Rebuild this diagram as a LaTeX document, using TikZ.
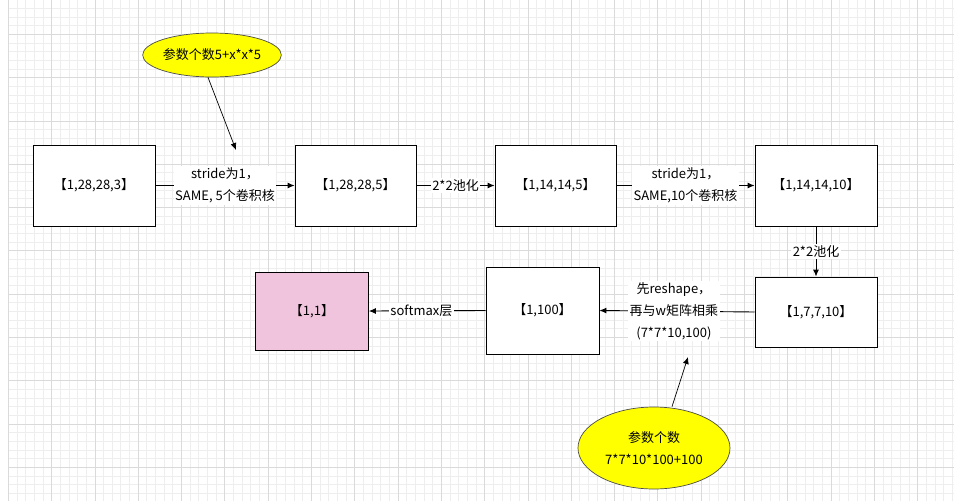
\documentclass[tikz,border=0pt]{standalone}
\usepackage{fontspec}
\setmainfont{Noto Sans CJK SC}
\usepackage{tikz}
\usetikzlibrary{arrows.meta,positioning,shapes.geometric}
\definecolor{minorgrid}{RGB}{238,238,238}
\definecolor{majorgrid}{RGB}{218,218,218}
\definecolor{boxpink}{RGB}{241,196,222}
\definecolor{bubble}{RGB}{255,255,0}

\begin{document}
\begin{tikzpicture}[x=1pt,y=-1pt,
  every node/.style={font=\fontsize{13}{22}\selectfont},
  box/.style={draw,line width=0.9pt,inner sep=0pt},
  bubblenode/.style={ellipse,draw=black!70,fill=bubble,line width=0.7pt,inner sep=0pt,align=center},
  lbl/.style={fill=white,inner sep=1.5pt,align=center},
  conn/.style={line width=0.9pt,-{Latex[length=7pt,width=6pt]}}]
  \useasboundingbox (0,0) rectangle (954,501);
  \fill[white] (0,0) rectangle (954,501);

  % grid
  \foreach \i in {0,...,109} {
    \draw[minorgrid,line width=0.8pt] (8.3+\i*8.66,0) -- (8.3+\i*8.66,501);
  }
  \foreach \j in {-3,...,54} {
    \draw[minorgrid,line width=0.8pt] (8.3,34.3+\j*8.66) -- (954,34.3+\j*8.66);
  }
  \foreach \i in {0,...,22} {
    \draw[majorgrid,line width=0.8pt] (8.3+\i*43.3,0) -- (8.3+\i*43.3,501);
  }
  \foreach \j in {0,...,11} {
    \draw[majorgrid,line width=0.8pt] (8.3,34.3+\j*43.3) -- (954,34.3+\j*43.3);
  }

  % tensor boxes
  \node[box,fill=white,minimum width=122pt,minimum height=81pt] (in) at (94,185.5) {【1,28,28,3】};
  \node[box,fill=white,minimum width=121pt,minimum height=81pt] (conva) at (355.5,185.5) {【1,28,28,5】};
  \node[box,fill=white,minimum width=121pt,minimum height=81pt] (poola) at (555.5,185.5) {【1,14,14,5】};
  \node[box,fill=white,minimum width=122pt,minimum height=81pt] (convb) at (816,185.5) {【1,14,14,10】};
  \node[box,fill=white,minimum width=122pt,minimum height=70pt] (poolb) at (816,312) {【1,7,7,10】};
  \node[box,fill=white,minimum width=113pt,minimum height=87pt] (fc) at (542.5,310.5) {【1,100】};
  \node[box,fill=boxpink,minimum width=113pt,minimum height=78pt] (out) at (312,311) {【1,1】};

  % parameter bubbles
  \node[bubblenode,minimum width=130pt,minimum height=44pt] (pa) at (212,55) {参数个数5+x*x*5};
  \node[bubblenode,minimum width=152pt,minimum height=82pt] (pb) at (654,448) {参数个数\\7*7*10*100+100};
  \coordinate (pa end) at (236,150);
  \coordinate (pb end) at (688,357);

  % connectors
  \draw[conn] (in.east) -- node[lbl] {stride为1，\\SAME, 5个卷积核} (conva.west);
  \draw[conn] (conva.east) -- node[lbl] {2*2池化} (poola.west);
  \draw[conn] (poola.east) -- node[lbl] {stride为1，\\SAME,10个卷积核} (convb.west);
  \draw[conn] (convb.south) -- node[lbl] {2*2池化} (poolb.north);
  \draw[conn] (poolb.west) -- node[lbl,pos=0.52] {先reshape，\\再与w矩阵相乘\\(7*7*10,100)} (fc.east);
  \draw[conn] (fc.west) -- node[lbl,pos=0.55] {softmax层} (out.east);

  \draw[conn,line width=0.7pt] (pa.south) ++(-4,0) -- (pa end);
  \draw[conn,line width=0.7pt] (pb.north) ++(18,0) -- (pb end);
\end{tikzpicture}
\end{document}
